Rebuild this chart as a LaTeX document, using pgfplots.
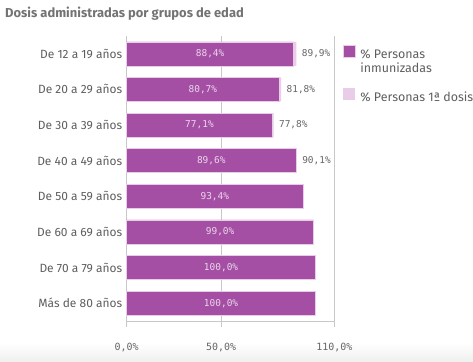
\documentclass[border=0pt]{standalone}
\usepackage{fontspec}
\setmainfont{Fira Sans}
\newfontfamily\monof{DejaVu Sans Mono}
\usepackage{pgfplots}
\pgfplotsset{compat=1.18}
\usepackage{pgfplotstable}
\definecolor{dark}{HTML}{A44FA4}
\definecolor{light}{HTML}{E8CCE8}
\definecolor{lbltext}{HTML}{EAD6EA}
\definecolor{titlegray}{HTML}{737373}
\definecolor{txtgray}{HTML}{5E5E5E}
\definecolor{numgray}{HTML}{666666}
\definecolor{linegray}{HTML}{C8C8C8}
\pgfplotstableread{
y imm first
0 88.4 89.9
1 80.7 81.8
2 77.1 77.8
3 89.6 90.1
4 93.4 93.4
5 99.0 99.0
6 100.0 100.0
7 100.0 100.0
}\data
\pgfkeys{/pgf/number format/.cd, assume math mode=true}
\begin{document}
\begin{tikzpicture}[x=1bp,y=1bp]
\path[use as bounding box] (0,0) rectangle (473,361);
\shade[top color=white, bottom color=black!6] (0,0) rectangle (473,18);
\node[anchor=west, font=\bfseries\fontsize{13}{15}\selectfont, text=titlegray, inner sep=0] at (5,347) {Dosis administradas por grupos de edad};
\begin{axis}[at={(126.7bp,40bp)}, anchor=south west, scale only axis,
  width=207.6bp, height=285bp,
  /pgf/number format/assume math mode=true,
  xmin=0, xmax=110, ymin=-0.5, ymax=7.5, y dir=reverse,
  axis x line*=bottom, axis y line*=left,
  axis line style={linegray, line width=0.8bp},
  xtick={0,50,110}, xmajorgrids, grid style={linegray, line width=0.8bp},
  xtick align=outside, major tick length=6bp, x tick style={linegray, line width=0.8bp},
  ytick={0,...,7}, y tick style={draw=none},
  yticklabels={De 12 a 19 años, De 20 a 29 años, De 30 a 39 años, De 40 a 49 años, De 50 a 59 años, De 60 a 69 años, De 70 a 79 años, Más de 80 años},
  yticklabel style={font=\fontsize{12}{14}\selectfont, text=txtgray, xshift=-1bp},
  xticklabel={\pgfmathprintnumber[assume math mode=true,use comma,fixed,fixed zerofill,precision=1]{\tick}\%},
  xticklabel style={font=\monof\fontsize{10}{12}\selectfont, text=numgray, anchor=north, yshift=-13bp},
  legend style={at={(1.04,0.97)}, anchor=north west, draw=none, fill=none, inner sep=0pt,
    row sep=12bp, font=\fontsize{12.5}{14.5}\selectfont, text=txtgray, cells={anchor=north west, align=left},
    /tikz/every even column/.append style={column sep=0pt}},
  legend image code/.code={\fill[#1] (0bp,-10bp) rectangle (12bp,2bp);},
  clip=false,
]
\addplot[xbar, bar width=24bp, bar shift=0pt, fill=light, draw=none, forget plot] table[x=first, y=y]{\data};
\addplot[xbar, bar width=24bp, bar shift=0pt, fill=dark, draw=light, line width=0.6bp] table[x=imm, y=y]{\data};
\addlegendentry{\hspace{3bp}\% Personas\\\hspace{3bp}inmunizadas}
\addlegendimage{fill=light, draw=none}
\addlegendentry{\hspace{3bp}\% Personas 1ª dosis}
\addplot[draw=none, mark=none, forget plot, point meta=explicit,
  nodes near coords={\pgfmathprintnumber[assume math mode=true,use comma,fixed,fixed zerofill,precision=1]{\pgfplotspointmeta}\%},
  nodes near coords style={anchor=center, text=lbltext, font=\monof\fontsize{9.5}{11}\selectfont}]
  table[x expr=\thisrow{imm}/2, y=y, meta=imm]{\data};
\addplot[draw=none, mark=none, forget plot, point meta=explicit, restrict y to domain=0:3,
  nodes near coords={\pgfmathprintnumber[assume math mode=true,use comma,fixed,fixed zerofill,precision=1]{\pgfplotspointmeta}\%},
  nodes near coords style={anchor=west, xshift=2bp, text=numgray, font=\monof\fontsize{9.5}{11}\selectfont}]
  table[x=first, y=y, meta=first]{\data};
\end{axis}
\end{tikzpicture}
\end{document}
